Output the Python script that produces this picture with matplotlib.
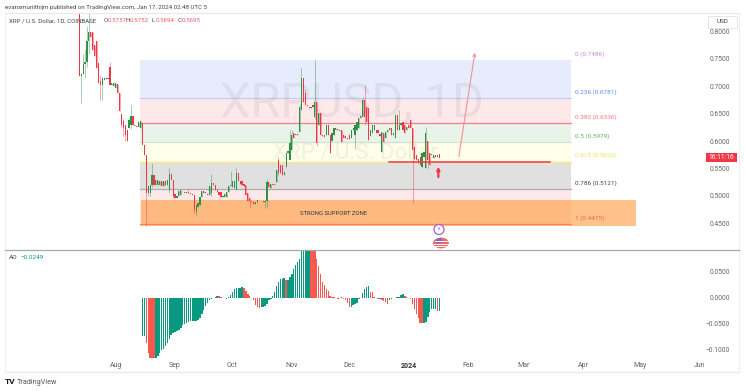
import matplotlib
matplotlib.use('Agg')
import matplotlib.pyplot as plt
from matplotlib.patches import Ellipse, Rectangle, Wedge

plt.rcParams['font.family'] = ['Roboto', 'DejaVu Sans']

W, H = 745, 391

# daily candles, day number counted from 1 Aug 2023
first_day = -19
opens = [.89, .718, .722, .74, .744, .782, .80, .80, .776, .782,
         .742, .709, .703, .712, .716, .713, .735, .703, .700, .697,
         .705, .688, .65, .636, .629, .62, .624, .63, .645, .63,
         .627, .625, .624, .633, .593, .575, .505, .505, .52, .538,
         .529, .52, .519, .526, .518, .526, .52, .511, .54, .529,
         .504, .495, .499, .502, .507, .506, .505, .506, .505, .503,
         .502, .471, .48, .483, .498, .508, .505, .504, .502, .505,
         .523, .519, .511, .507, .506, .498, .497, .498, .507, .517,
         .515, .514, .511, .541, .526, .526, .522, .52, .505, .495,
         .49, .489, .484, .489, .49, .49, .491, .489, .4895, .5255,
         .514, .522, .522, .525, .565, .556, .556, .538, .553, .5775,
         .565, .5835, .614, .612, .611, .617, .657, .7147, .687, .666,
         .663, .663, .663, .6445, .672, .6285, .651, .611, .611, .611,
         .629, .611, .60, .611, .623, .62, .62, .62, .611, .609,
         .605, .611, .605, .62, .611, .62, .623, .6415, .6445, .675,
         .663, .66, .61, .614, .62, .62, .62, .612, .58, .614,
         .605, .617, .62, .623, .611, .605, .6475, .62, .63, .635,
         .629, .62, .629, .638, .623, .5895, .575, .568, .5715, .553,
         .57, .55, .60, .5775, .575, .5685, .571, .575, .5757]
closes = [.718, .722, .74, .744, .782, .80, .79, .767, .755, .733,
          .706, .703, .715, .716, .713, .716, .703, .706, .707, .707,
          .688, .654, .63, .624, .611, .60, .639, .645, .63, .627,
          .625, .634, .636, .593, .575, .505, .518, .52, .538, .52,
          .52, .529, .526, .518, .526, .52, .528, .54, .529, .50,
          .495, .50, .508, .511, .506, .505, .507, .505, .503, .502,
          .474, .483, .486, .498, .508, .505, .505, .502, .517, .523,
          .52, .511, .507, .502, .498, .50, .503, .507, .517, .52,
          .526, .526, .541, .526, .522, .52, .518, .502, .49, .49,
          .489, .484, .489, .492, .491, .491, .489, .49, .5255, .515,
          .522, .519, .52, .547, .541, .541, .538, .543, .5775, .581,
          .596, .611, .605, .611, .612, .663, .7147, .672, .666, .664,
          .66, .66, .665, .672, .596, .6505, .611, .609, .608, .629,
          .611, .5775, .615, .623, .62, .622, .619, .599, .605, .605,
          .604, .603, .62, .623, .629, .635, .6415, .6465, .675, .6445,
          .6355, .602, .62, .629, .629, .614, .614, .61, .617, .599,
          .617, .62, .623, .611, .615, .6475, .62, .63, .633, .62,
          .614, .625, .623, .623, .5835, .5675, .5655, .56, .556, .5775,
          .58, .614, .565, .556, .575, .5745, .574, .57, .5695]
# only the candles whose wicks stick out
wick_highs = {-19: .93, -17: .76, -16: .767, -15: .81, -14: .86, -8: .72, -3: .745, 4: .64, 7: .642,
              8: .666, 19: .56, 28: .55, 38: .512, 50: .54, 60: .545, 63: .55, 79: .53, 85: .57,
              91: .62, 92: .62, 96: .668, 97: .733, 99: .695, 104: .748, 129: .68, 130: .7025,
              146: .65, 148: .657, 162: .625}
wick_lows = {-18: .669, -16: .715, -15: .735, -14: .76, -8: .675, -7: .675, 3: .625, 4: .61, 5: .60,
             8: .622, 16: .444, 17: .50, 18: .50, 19: .515, 28: .505, 30: .495, 41: .468, 42: .465,
             50: .50, 63: .51, 70: .478, 78: .477, 79: .477, 85: .538, 104: .64, 105: .59, 125: .586,
             130: .63, 139: .58, 155: .486, 160: .55, 162: .55, 163: .55}

# awesome oscillator, starts at day 14
ao_first_day = 14
ao_values = [-.0724, -.0724, -.087, -.106, -.122, -.13, -.135, -.125, -.111, -.106,
             -.101, -.098, -.092, -.0865, -.079, -.071, -.067, -.066, -.064, -.061,
             -.057, -.053, -.051, -.048, -.0455, -.044, -.0436, -.0436, -.0436, -.043,
             -.039, -.031, -.024, -.016, -.0096, -.005, -.002, -.001, .0006, .004,
             .0026, .0013, -.0003, -.0006, -.002, .0013, .006, .011, .016, .0186,
             .019, .0192, .02, .019, .014, .0077, .003, -.0006, -.005, -.0135,
             -.0186, -.02, -.0186, -.017, -.016, -.0115, -.005, -.002, .0026, .011,
             .022, .03, .0365, .037, .0375, .035, .035, .039, .046, .056,
             .0635, .0686, .075, .096, .10, .105, .108, .11, .108, .105,
             .10, .075, .061, .046, .03, .0237, .0173, .014, .0032, .0013,
             .0006, 0, -.0019, 0, .0006, -.0019, -.005, -.0096, -.018, -.0167,
             -.0135, -.0115, -.0096, -.0019, -.0006, .0096, .0173, .021, .0218, .012,
             .011, .0013, 0, -.002, -.002, -.004, -.007, -.008, -.0115, -.004,
             -.002, -.0006, 0, .0006, .0013, .0045, .0064, .0032, .0013, 0,
             -.002, -.0115, -.021, -.031, -.039, -.048, -.0487, -.048, -.0468, -.037,
             -.0276, -.0224, -.021, -.021, -.0256, -.0249]

# fibonacci retracement
fib_start, fib_end = 12.5, 238
fib_levels = [.7486, .6781, .6336, .5979, .5625, .5121, .4475]
fib_texts = ['0 (0.7486)', '0.236 (0.6781)', '0.382 (0.6336)', '0.5 (0.5979)', '0.618 (0.5625)',
             '0.786 (0.5121)', '1 (0.4475)']
fib_fills = ['#e6ecfb', '#fde8ea', '#e9f3ea', '#fffeea', '#e0e0e0', '#fde8ea']
fib_lines = ['#e6ecfb', '#c3d0f5', '#f77f86', '#cfe5cf', '#f6ea7c', '#b0acac', '#f6636b']
fib_text_cols = ['#c28fd8', '#5b8ff0', '#f4777f', '#5cb36a', '#efe25a', '#444444', '#f6636b']

price_ticks = [.45, .50, .55, .60, .65, .70, .75, .80]
ao_ticks = [.05, 0, -.05, -.1]
month_days = [0, 31, 61, 92, 122, 153, 184, 213, 244, 274, 305]
month_names = ['Aug', 'Sep', 'Oct', 'Nov', 'Dec', '2024', 'Feb', 'Mar', 'Apr', 'May', 'Jun']

GREEN = '#2f9145'
RED = '#f23645'
TEAL = '#089981'
AO_RED = '#f7584f'
GREY = '#666666'

fig = plt.figure(figsize=(W / 100, H / 100), dpi=100, facecolor='white')


def box(x0, y0, x1, y1):
    return [x0 / W, 1 - y1 / H, (x1 - x0) / W, (y1 - y0) / H]


ax = fig.add_axes(box(5, 13.5, 739, 249))
ax2 = fig.add_axes(box(5, 250, 739, 358))
xlim = (-57.8, 325.5)

#%% price pane
ax.set_xlim(xlim)
ax.set_ylim(.4025, .8332)

for i in range(6):
    ax.fill_between([fib_start, fib_end], fib_levels[i + 1], fib_levels[i], color=fib_fills[i], lw=0, zorder=1)
for lev, col in zip(fib_levels, fib_lines):
    ax.plot([fib_start, fib_end], [lev, lev], color=col, lw=0.9, zorder=2)
for lev, txt, col in zip(fib_levels, fib_texts, fib_text_cols):
    ax.annotate(txt, (240, lev), xytext=(0, 2.2), textcoords='offset points', fontsize=4.6, color=col, va='bottom')

# support zone
ax.add_patch(Rectangle((13, .4445), 258.6, .4925 - .4445, color='#ff9a3c', alpha=.6, lw=0, zorder=2.5))
ax.text(114, .4675, 'STRONG SUPPORT ZONE', fontsize=4.2, color='#333333', ha='center', va='center', zorder=6)

# watermark
ax.text(123.5, .668, 'XRPUSD, 1D', fontsize=35, color='black', alpha=.055, ha='center', va='center', zorder=3)
ax.text(125, .5775, 'XRP / U.S. Dollar', fontsize=16, color='black', alpha=.055, ha='center', va='center', zorder=3)

# candles
for i, (o, c) in enumerate(zip(opens, closes)):
    d = first_day + i
    col = GREEN if c >= o else RED
    hi = wick_highs.get(d, max(o, c))
    lo = wick_lows.get(d, min(o, c))
    ax.vlines(d, lo, hi, color=col, lw=0.6, alpha=.5, zorder=4)
    ax.bar(d, max(abs(c - o), .0012), bottom=min(o, c), width=.62, color=col, lw=0, zorder=5)

# level line and arrows
ax.plot([142.7, 226.8], [.5625, .5625], color=RED, lw=1.1, zorder=6)
ax.annotate('', xy=(168.5, .553), xytext=(168.5, .534),
            arrowprops=dict(arrowstyle='-|>', color=RED, lw=1.6, mutation_scale=4, shrinkA=0, shrinkB=0), zorder=6)
ax.annotate('', xy=(187.8, .7665), xytext=(179, .567),
            arrowprops=dict(arrowstyle='->', color='#f98f96', lw=0.8, ls=(0, (3, 0.6)), mutation_scale=5), zorder=6)

ax.yaxis.tick_right()
ax.set_yticks(price_ticks)
ax.set_yticklabels(['%.4f' % v for v in price_ticks], ha='right')
ax.tick_params(axis='y', length=0, pad=-6.5, labelsize=4.8, labelcolor=GREY)
ax.set_xticks([])

#%% oscillator pane
ax2.set_xlim(xlim)
ax2.set_ylim(-.1155, .0917)
for i, v in enumerate(ao_values):
    rising = i == 0 or v >= ao_values[i - 1]
    ax2.bar(ao_first_day + i, v, width=.75, color=TEAL if rising else AO_RED, lw=0)

ax2.yaxis.tick_right()
ax2.set_yticks(ao_ticks)
ax2.set_yticklabels([('%.4f' % v).replace('-', '\u2212') for v in ao_ticks], ha='right')
ax2.tick_params(axis='y', length=0, pad=-6.5, labelsize=4.8, labelcolor=GREY)
ax2.set_xticks(month_days)
ax2.set_xticklabels(month_names)
ax2.tick_params(axis='x', length=0, pad=3.2, labelsize=5, labelcolor=GREY)
ax2.get_xticklabels()[5].set_color('#333333')
ax2.get_xticklabels()[5].set_fontweight('bold')

for a in (ax, ax2):
    a.patch.set_alpha(0)
    for s in a.spines.values():
        s.set_visible(False)

#%% frame, header and small things, in pixels
top = fig.add_axes([0, 0, 1, 1], zorder=10)
top.set_xlim(0, W)
top.set_ylim(H, 0)
top.axis('off')

top.plot([5, 739], [13.2, 13.2], color='#e8e8e8', lw=0.8)
top.plot([5, 739], [372, 372], color='#e8e8e8', lw=0.8)
top.plot([5, 5], [13, 372], color='#eeeeee', lw=0.8)
top.plot([739, 739], [13, 372], color='#eeeeee', lw=0.8)
top.plot([5, 739], [249.5, 249.5], color='#a8a8a8', lw=0.9)

top.text(5, 7.5, 'evansmuriithijm published on TradingView.com, Jan 17, 2024 02:48 UTC 5', fontsize=4.45,
         color='#444444', va='center')
top.text(9, 21, 'XRP / U.S. Dollar, 1D, COINBASE', fontsize=4.45, color='#444444', va='center')
for x, letter, val in [(105, 'O', '0.5757'), (127, 'H', '0.5752'), (153, 'L', '0.5694'), (179, 'C', '0.5695')]:
    top.text(x - 1, 21, letter, fontsize=4.45, color='#444444', va='center')
    top.text(x + 3, 21, val, fontsize=4.45, color='#f4606a', va='center')
top.text(9, 257.5, 'AO', fontsize=4.6, color='#444444', va='center')
top.text(20, 257.5, '\u22120.0249', fontsize=4.6, color=TEAL, va='center')

# USD box and countdown tag
top.add_patch(Rectangle((708, 15.5), 29, 12.5, fc='white', ec='#e6e6e6', lw=0.7))
top.text(722.5, 21.5, 'USD', fontsize=4.6, color='#444444', ha='center', va='center')
top.add_patch(Rectangle((706, 153), 31, 9, fc=RED, lw=0))
top.text(721.5, 157.5, '16:11:16', fontsize=4.8, color='white', ha='center', va='center')

# event icons
top.add_patch(Ellipse((439, 229.5), 10, 10, fc='white', ec='#a55fd0', lw=0.9))
top.text(439, 229.5, '\u26a1', fontsize=4.5, color='#a55fd0', ha='center', va='center', family=['DejaVu Sans'])
top.add_patch(Ellipse((441, 243), 15, 10, fc='#f4606a', ec='#f4606a', lw=0.5))
top.plot([434.5, 447.5], [241, 241], color='white', lw=0.7)
top.plot([434, 448], [243.5, 243.5], color='white', lw=0.7)
top.plot([435, 447], [246, 246], color='white', lw=0.7)
top.add_patch(Wedge((441, 243), 5, 180, 270, fc='#4a78d8', lw=0))

# logo
top.text(5, 383.5, 'TV', fontsize=6, fontweight='bold', color='#131722', va='baseline')
top.text(17, 383.5, 'TradingView', fontsize=5.2, color='#555555', va='baseline')

fig.savefig('out.png', dpi=100)
